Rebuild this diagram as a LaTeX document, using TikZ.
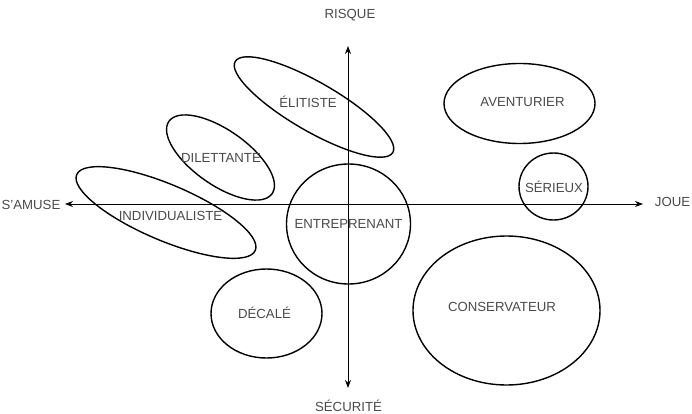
\documentclass[tikz,border=0pt]{standalone}
\usepackage{fontspec}
\setmainfont{Liberation Sans}
\usetikzlibrary{shapes.geometric,arrows.meta}
\definecolor{txtgray}{HTML}{4A4A4A}
\begin{document}
\begin{tikzpicture}[x=1pt,y=-1pt,
  blob/.style={draw=black, line width=1.4pt, ellipse, inner sep=0pt, minimum width=#1},
  lbl/.style={font=\fontsize{13.2}{15}\selectfont, text=txtgray, inner sep=0pt},
  axis/.style={line width=0.9pt, {Stealth[length=8pt,width=6pt]}-{Stealth[length=8pt,width=6pt]}}
]
\useasboundingbox (0,0) rectangle (692,414);
% axes
\coordinate (L) at (65,204);
\coordinate (R) at (643,204);
\coordinate (T) at (348,46);
\coordinate (B) at (348,388);
\draw[axis] (L) -- (R);
\draw[axis] (T) -- (B);
\node[lbl] (risque) at (350,15) {RISQUE};
\node[lbl] (securite) at (348.5,406) {SÉCURITÉ};
\node[lbl] (samuse) at (31,204.5) {S'AMUSE};
\node[lbl] (joue) at (672.5,202) {JOUE};
% ellipses
\node[blob=182pt, minimum height=49pt, rotate=-30] (elit) at (314,107) {};
\node[lbl] (telit) at (308,102) {ÉLITISTE};
\node[blob=126pt, minimum height=55pt, rotate=-35] (dilet) at (220.5,157.5) {};
\node[lbl] (tdilet) at (221,158) {DILETTANTE};
\node[blob=194pt, minimum height=56pt, rotate=-23] (indiv) at (166,212.5) {};
\node[lbl] (tindiv) at (170.5,216) {INDIVIDUALISTE};
\node[blob=124pt, minimum height=120pt] (entre) at (348.5,224) {};
\node[lbl] (tentre) at (348.5,224) {ENTREPRENANT};
\node[blob=151pt, minimum height=80pt] (avent) at (519.5,103.5) {};
\node[lbl] (tavent) at (522.5,102) {AVENTURIER};
\node[blob=69pt, minimum height=67pt] (serieux) at (553.5,186.5) {};
\node[lbl] (tserieux) at (554,187) {SÉRIEUX};
\node[blob=111pt, minimum height=89pt] (decale) at (266.5,313.5) {};
\node[lbl] (tdecale) at (264.5,313) {DÉCALÉ};
\node[blob=187pt, minimum height=149pt] (conserv) at (506.5,310.5) {};
\node[lbl] (tconserv) at (502,307) {CONSERVATEUR};
\end{tikzpicture}
\end{document}
